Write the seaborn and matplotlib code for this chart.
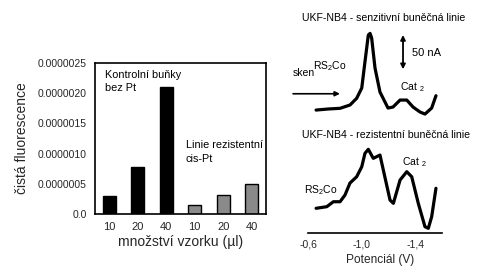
import numpy as np
import pandas as pd
import matplotlib
matplotlib.use("Agg")
import matplotlib.pyplot as plt
import seaborn as sns

# ---- data: bar chart ----
categories = ["K10", "K20", "K40", "R10", "R20", "R40"]
tick_labels = ["10", "20", "40", "10", "20", "40"]
groups = ["kontrola", "kontrola", "kontrola", "rezistentni", "rezistentni", "rezistentni"]
fluorescence = [0.00000030, 0.00000078, 0.00000210, 0.00000015, 0.00000032, 0.00000050]

# ---- data: voltammograms (potential V, current nA) ----
sens_V = [-0.660, -0.749, -0.839, -0.913, -0.963, -1.001, -1.025, -1.050, -1.063, -1.075,
          -1.100, -1.137, -1.197, -1.234, -1.287, -1.337, -1.384, -1.436, -1.473, -1.523, -1.555]
sens_I = [7.1, 8.6, 9.6, 14.3, 23.9, 38.6, 76.1, 114.3, 116.7, 110.0,
          67.1, 32.9, 10.0, 11.4, 21.4, 21.4, 11.4, 4.3, 1.4, 10.0, 27.6]
res_V = [-0.660, -0.740, -0.789, -0.839, -0.876, -0.913, -0.963, -1.001, -1.025, -1.050,
         -1.087, -1.137, -1.162, -1.212, -1.237, -1.287, -1.337, -1.374, -1.423, -1.473,
         -1.498, -1.523, -1.555]
res_I = [35.3, 37.6, 44.7, 44.7, 54.3, 71.4, 80.4, 94.7, 113.9, 119.6,
         106.7, 111.4, 90.0, 47.1, 42.4, 75.7, 87.6, 80.4, 42.4, 9.0,
         6.7, 23.3, 63.9]
pot_ticks = [-0.6, -0.8, -1.0, -1.2, -1.4, -1.6]
pot_labels = ["-0,6", "", "-1,0", "", "-1,4", ""]
sens_offset = 168.6  # vertical placement of upper trace

sns.set_theme(style="white")
plt.rcParams["font.family"] = ["Liberation Sans", "DejaVu Sans"]
plt.rcParams["mathtext.default"] = "regular"
plt.rcParams["text.color"] = "black"

fig = plt.figure(figsize=(4.87, 2.67), dpi=100)

# ---------------- left: bar chart ----------------
ax = fig.add_axes([95 / 487, 53 / 267, 171 / 487, 151 / 267])
df = pd.DataFrame({"kat": categories, "hodnota": fluorescence, "skupina": groups})
sns.barplot(data=df, x="kat", y="hodnota", hue="skupina", order=categories,
            palette={"kontrola": "black", "rezistentni": "#8a8a8a"},
            dodge=False, width=0.46, edgecolor="black", linewidth=1.0,
            legend=False, ax=ax)
ax.set_xlim(-0.5, 5.5)
ax.set_ylim(0, 0.0000025)
yt = [0.0, 0.0000005, 0.0000010, 0.0000015, 0.0000020, 0.0000025]
ax.set_yticks(yt)
ax.set_yticklabels(["0.0", "0.0000005", "0.0000010", "0.0000015", "0.0000020", "0.0000025"],
                   fontsize=7.5)
ax.set_xticks(np.arange(-0.5, 6.0, 1.0))
ax.set_xticklabels([])
ax.set_xticks(np.arange(0, 6), minor=True)
ax.set_xticklabels(tick_labels, minor=True, fontsize=8)
ax.tick_params(axis="x", which="minor", length=0, pad=6)
ax.tick_params(axis="x", which="major", length=4, width=1.2, direction="out", color="black")
ax.tick_params(axis="y", length=4, width=1.2, direction="out", color="black", pad=2)
for s in ax.spines.values():
    s.set_visible(True)
    s.set_color("black")
    s.set_linewidth(1.2)
ax.set_xlabel("množství vzorku (µl)", fontsize=10, labelpad=2)
ax.set_ylabel("čistá fluorescence", fontsize=10, labelpad=6)
ax.text(0.06, 0.955, "Kontrolní buňky\nbez Pt", transform=ax.transAxes,
        fontsize=7.8, va="top", ha="left", linespacing=1.45)
ax.text(0.53, 0.49, "Linie rezistentní\ncis-Pt", transform=ax.transAxes,
        fontsize=7.8, va="top", ha="left", linespacing=1.45)

# ---------------- right: voltammograms ----------------
ax2 = fig.add_axes([300 / 487, 34 / 267, 187 / 487, 233 / 267])
ax2.set_facecolor("none")
sns.lineplot(x=sens_V, y=np.array(sens_I) + sens_offset, sort=False, estimator=None,
             color="black", linewidth=2.3, ax=ax2)
sns.lineplot(x=res_V, y=res_I, sort=False, estimator=None,
             color="black", linewidth=2.3, ax=ax2)
for line in ax2.lines:
    line.set_solid_joinstyle("round")
    line.set_solid_capstyle("round")
ax2.set_xlim(-0.540, -1.936)
ax2.set_ylim(0, 333)
for k in ["top", "right", "left"]:
    ax2.spines[k].set_visible(False)
ax2.spines["bottom"].set_bounds(-0.6, -1.6)
ax2.spines["bottom"].set_color("black")
ax2.spines["bottom"].set_linewidth(1.2)
ax2.set_yticks([])
ax2.set_xticks(pot_ticks)
ax2.set_xticklabels(pot_labels, fontsize=7.5)
ax2.tick_params(axis="x", length=5, width=1.2, direction="inout", color="black", pad=2)
ax2.set_xlabel("Potenciál (V)", fontsize=8.6, labelpad=2)
ax2.xaxis.set_label_coords(0.428, -0.09)

ax2.text(-1.167, 307, "UKF-NB4 - senzitivní buněčná linie", fontsize=7.6,
         ha="center", va="center")
ax2.text(-1.182, 140, "UKF-NB4 - rezistentní buněčná linie", fontsize=7.6,
         ha="center", va="center")
ax2.text(-1.375, 257, "50 nA", fontsize=8, ha="left", va="center")
ax2.annotate("", xy=(-1.309, 283), xytext=(-1.309, 234),
             arrowprops=dict(arrowstyle="<|-|>", color="black", lw=1.3,
                             mutation_scale=7, shrinkA=0, shrinkB=0))
ax2.text(-0.637, 238, "RS$_2$Co", fontsize=7.5, ha="left", va="center")
ax2.text(-0.488, 228, "sken", fontsize=7.5, ha="left", va="center")
ax2.annotate("", xy=(-0.838, 199), xytext=(-0.488, 199),
             arrowprops=dict(arrowstyle="-|>", color="black", lw=1.2,
                             mutation_scale=7, shrinkA=0, shrinkB=0),
             annotation_clip=False)
ax2.text(-1.287, 208, "Cat $_2$", fontsize=7.5, ha="left", va="center")
ax2.text(-0.570, 61, "RS$_2$Co", fontsize=7.5, ha="left", va="center")
ax2.text(-1.30, 101, "Cat $_2$", fontsize=7.5, ha="left", va="center")

fig.savefig("out.png", dpi=100)
